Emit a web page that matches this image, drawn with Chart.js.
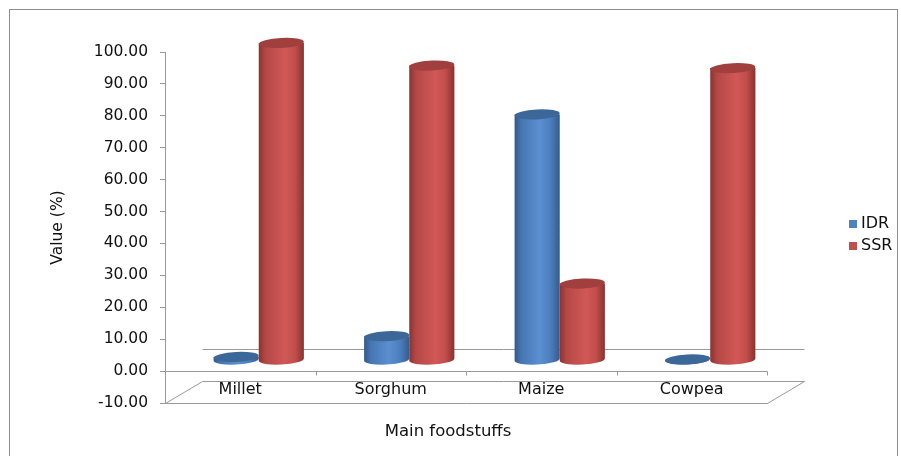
<!DOCTYPE html>
<html>
<head>
<meta charset="utf-8">
<script src="https://cdn.jsdelivr.net/npm/chart.js@4.4.1/dist/chart.umd.min.js"></script>
<style>
html, body { margin: 0; padding: 0; background: #fff; }
#area { position: relative; width: 901px; height: 456px; }
</style>
</head>
<body>
<div id="area"><canvas id="grafico" width="901" height="456"></canvas></div>
<script>
// Dados
const categorias = ['Millet', 'Sorghum', 'Maize', 'Cowpea'];
const valoresIDR = [1.0, 7.5, 77.0, 0.2];
const valoresSSR = [99.4, 92.3, 24.0, 91.5];
const ticksY = [-10, 0, 10, 20, 30, 40, 50, 60, 70, 80, 90, 100];

const FONTE = '"DejaVu Sans", sans-serif';
const COR_TEXTO = '#111111';
const COR_EIXO = '#9a9a9a';
const PROF_X = 37, PROF_Y = 22;   // profundidade do "3D"
const INCL = -0.05;

const estilos = [
    { // IDR
        corpo: [[0, '#33598a'], [0.15, '#4676b3'], [0.55, '#5a8fd1'], [0.8, '#4b7ebd'], [1, '#345b8c']],
        topo: '#3c6799',
        legenda: '#4f81bd'
    },
    { // SSR
        corpo: [[0, '#8a3331'], [0.15, '#b44846'], [0.58, '#d15856'], [0.8, '#c24e4b'], [1, '#88322f']],
        topo: '#a03f3d',
        legenda: '#c0504d'
    }
];

function desenharCilindro(ctx, cx, yTopo, yBase, rx, ry, est) {
    const g = ctx.createLinearGradient(cx - rx, 0, cx + rx, 0);
    est.corpo.forEach(([p, c]) => g.addColorStop(p, c));
    ctx.fillStyle = g;
    ctx.beginPath();
    ctx.moveTo(cx - rx, yTopo);
    ctx.lineTo(cx - rx, yBase);
    ctx.ellipse(cx, yBase, rx, ry, INCL, Math.PI, 0, true);
    ctx.lineTo(cx + rx, yTopo);
    ctx.closePath();
    ctx.fill();

    ctx.fillStyle = est.topo;
    ctx.beginPath();
    ctx.ellipse(cx, yTopo, rx, ry, INCL, 0, Math.PI * 2);
    ctx.fill();
}

// Plugin que desenha o piso, as linhas e os cilindros
const plugin3d = {
    id: 'cilindros3d',
    beforeDraw(chart) {
        const ctx = chart.ctx;
        ctx.save();
        ctx.fillStyle = '#fff';
        ctx.fillRect(0, 0, chart.width, chart.height);
        ctx.strokeStyle = '#8c8c8c';
        ctx.lineWidth = 1;
        ctx.strokeRect(9.5, 9.5, 888, 470);
        ctx.restore();
    },
    beforeDatasetsDraw(chart) {
        const { ctx, chartArea: a, scales: { x, y } } = chart;
        const y0 = Math.round(y.getPixelForValue(0)) + 0.5;
        const yMin = Math.round(y.getPixelForValue(y.min)) + 0.5;
        const esq = Math.round(a.left) + 0.5;
        const dir = Math.round(a.right) + 0.5;

        ctx.save();
        ctx.strokeStyle = COR_EIXO;
        ctx.lineWidth = 1;
        ctx.beginPath();
        // linha do zero na parede de fundo
        ctx.moveTo(esq + PROF_X, y0 - PROF_Y);
        ctx.lineTo(dir + PROF_X, y0 - PROF_Y);
        // linha do zero na frente
        ctx.moveTo(esq, y0);
        ctx.lineTo(dir, y0);
        for (let i = 0; i < categorias.length; i++) {
            const xb = Math.round(x.getPixelForValue(i + 0.5)) + 0.5;
            ctx.moveTo(xb, y0);
            ctx.lineTo(xb, y0 + 4);
        }
        // piso
        ctx.moveTo(esq, yMin);
        ctx.lineTo(esq + PROF_X, yMin - PROF_Y);
        ctx.lineTo(dir + PROF_X, yMin - PROF_Y);
        ctx.lineTo(dir, yMin);
        ctx.stroke();

        // cilindros (meio da profundidade)
        const dx = PROF_X / 2, dy = PROF_Y / 2;
        for (let i = 0; i < categorias.length; i++) {
            chart.data.datasets.forEach((ds, d) => {
                const bar = chart.getDatasetMeta(d).data[i];
                const p = bar.getProps(['x', 'y', 'base', 'width'], true);
                desenharCilindro(ctx, p.x + dx, p.y - dy, p.base - dy, p.width / 2, 5, estilos[d]);
            });
        }
        ctx.restore();
        return false;
    },
    afterDraw(chart) {
        const { ctx, scales: { x } } = chart;
        ctx.save();
        ctx.fillStyle = COR_TEXTO;
        ctx.textBaseline = 'middle';
        ctx.textAlign = 'center';
        // rótulos das categorias, dentro do piso
        ctx.font = '16px ' + FONTE;
        categorias.forEach((c, i) => {
            ctx.fillText(c, x.getPixelForValue(i), 390);
        });
        // título do eixo x
        ctx.font = '16.5px ' + FONTE;
        ctx.fillText('Main foodstuffs', 448, 432);
        // legenda
        ctx.font = '16px ' + FONTE;
        ctx.textAlign = 'left';
        chart.data.datasets.forEach((ds, d) => {
            const yy = 224 + d * 22;
            ctx.fillStyle = estilos[d].legenda;
            ctx.fillRect(849, yy - 4, 8, 8);
            ctx.fillStyle = COR_TEXTO;
            ctx.fillText(ds.label, 861, yy);
        });
        ctx.restore();
    }
};

const ctx = document.getElementById('grafico').getContext('2d');
new Chart(ctx, {
    type: 'bar',
    data: {
        labels: categorias,
        datasets: [
            { label: 'IDR', data: valoresIDR, backgroundColor: '#4f81bd' },
            { label: 'SSR', data: valoresSSR, backgroundColor: '#c0504d' }
        ]
    },
    options: {
        responsive: false,
        devicePixelRatio: 1,
        animation: false,
        categoryPercentage: 0.6,
        barPercentage: 1.0,
        layout: { padding: { left: 0, top: 52, right: 134, bottom: 0 } },
        plugins: {
            legend: { display: false },
            tooltip: { enabled: false }
        },
        scales: {
            x: {
                afterFit: (s) => { s.height = 53; },
                grid: { display: false, drawTicks: false },
                border: { display: true, color: COR_EIXO, width: 1 },
                ticks: { display: false }
            },
            y: {
                min: -10,
                max: 100,
                afterFit: (s) => { s.width = 165; },
                afterBuildTicks: (s) => { s.ticks = ticksY.map(v => ({ value: v })); },
                grid: { drawOnChartArea: false, drawTicks: true, tickLength: 5, color: COR_EIXO },
                border: { display: true, color: COR_EIXO, width: 1 },
                ticks: {
                    color: COR_TEXTO,
                    padding: 12,
                    font: { family: FONTE, size: 15.5 },
                    callback: (v) => Number(v).toFixed(2)
                },
                title: {
                    display: true,
                    text: 'Value (%)',
                    color: COR_TEXTO,
                    font: { family: FONTE, size: 15.5 },
                    padding: { top: 49, bottom: 0 }
                }
            }
        }
    },
    plugins: [plugin3d]
});
</script>
</body>
</html>
